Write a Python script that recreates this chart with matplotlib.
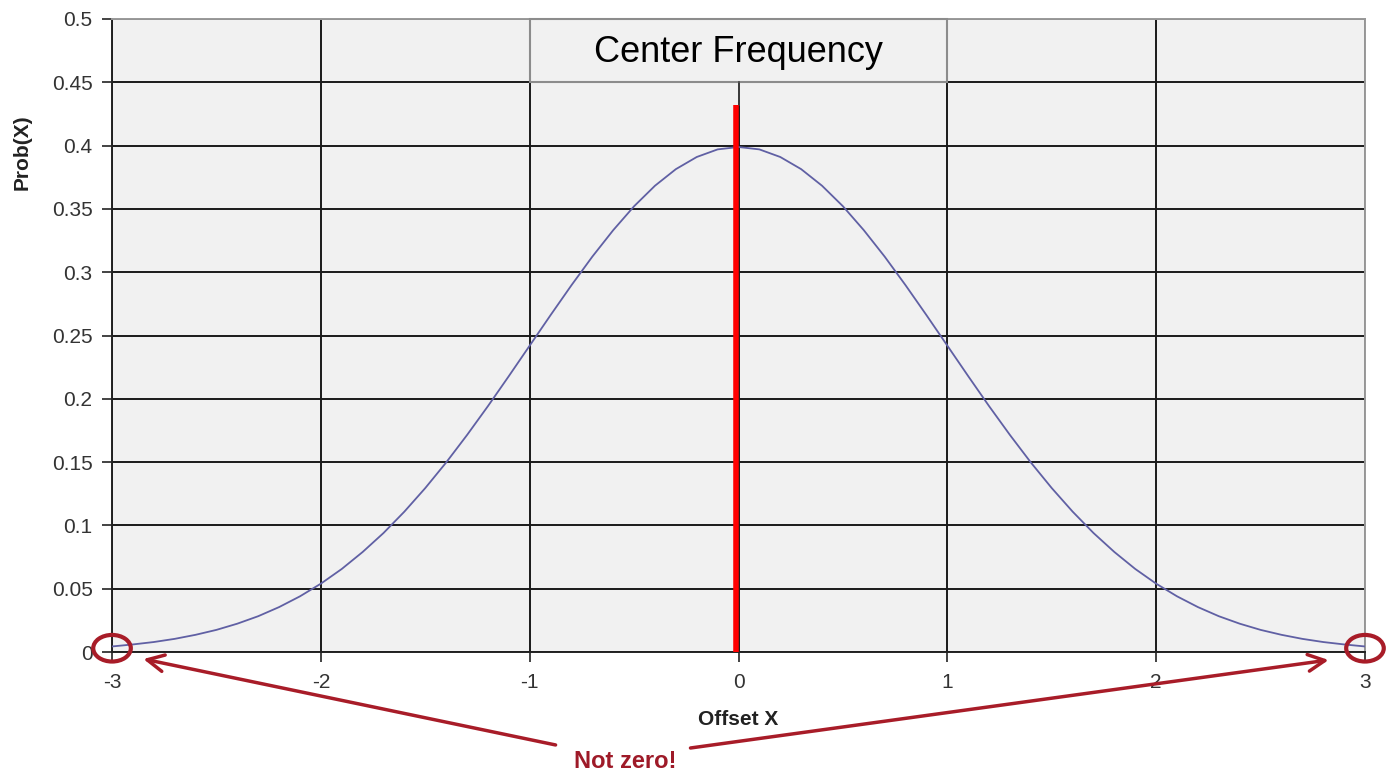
import matplotlib
matplotlib.use("Agg")
import matplotlib.pyplot as plt
from matplotlib.patches import Ellipse, Rectangle

plt.rcParams['font.family'] = ['Liberation Sans', 'DejaVu Sans']

# Data
offset_x = [-3.0, -2.9, -2.8, -2.7, -2.6, -2.5, -2.4, -2.3, -2.2, -2.1, -2.0,
            -1.9, -1.8, -1.7, -1.6, -1.5, -1.4, -1.3, -1.2, -1.1, -1.0,
            -0.9, -0.8, -0.7, -0.6, -0.5, -0.4, -0.3, -0.2, -0.1, 0.0,
            0.1, 0.2, 0.3, 0.4, 0.5, 0.6, 0.7, 0.8, 0.9, 1.0,
            1.1, 1.2, 1.3, 1.4, 1.5, 1.6, 1.7, 1.8, 1.9, 2.0,
            2.1, 2.2, 2.3, 2.4, 2.5, 2.6, 2.7, 2.8, 2.9, 3.0]
prob_x = [0.0044, 0.0060, 0.0079, 0.0104, 0.0136, 0.0175, 0.0224, 0.0283, 0.0355, 0.0440, 0.0540,
          0.0656, 0.0790, 0.0940, 0.1109, 0.1295, 0.1497, 0.1714, 0.1942, 0.2179, 0.2420,
          0.2661, 0.2897, 0.3123, 0.3332, 0.3521, 0.3683, 0.3814, 0.3910, 0.3970, 0.3989,
          0.3970, 0.3910, 0.3814, 0.3683, 0.3521, 0.3332, 0.3123, 0.2897, 0.2661, 0.2420,
          0.2179, 0.1942, 0.1714, 0.1497, 0.1295, 0.1109, 0.0940, 0.0790, 0.0656, 0.0540,
          0.0440, 0.0355, 0.0283, 0.0224, 0.0175, 0.0136, 0.0104, 0.0079, 0.0060, 0.0044]
x_ticks = [-3, -2, -1, 0, 1, 2, 3]
y_ticks = [0, 0.05, 0.1, 0.15, 0.2, 0.25, 0.3, 0.35, 0.4, 0.45, 0.5]
y_tick_labels = ["0", "0.05", "0.1", "0.15", "0.2", "0.25", "0.3", "0.35", "0.4", "0.45", "0.5"]
center_x = -0.01
center_top = 0.432
box_label = "Center Frequency"
note_label = "Not zero!"

fig = plt.figure(figsize=(13.9, 7.72), dpi=100)
ax = fig.add_axes([0.0806, 0.1554, 0.9014, 0.82])
ax.set_facecolor('#f1f1f1')
ax.set_xlim(-3, 3)
ax.set_ylim(0, 0.5)

ax.set_xticks(x_ticks)
ax.set_xticklabels([str(t) for t in x_ticks])
ax.set_yticks(y_ticks)
ax.set_yticklabels(y_tick_labels)
ax.tick_params(axis='both', direction='out', length=7, width=1.2, color='#222222',
               labelsize=15, labelcolor='#333333')
ax.tick_params(axis='x', pad=8)
ax.tick_params(axis='y', pad=7)
ax.grid(True, color='#1a1a1a', linewidth=1.4)
ax.set_axisbelow(True)

for s in ['left', 'bottom']:
    ax.spines[s].set_color('#222222')
    ax.spines[s].set_linewidth(1.4)
for s in ['top', 'right']:
    ax.spines[s].set_color('#999999')
    ax.spines[s].set_linewidth(1.4)

ax.plot(offset_x, prob_x, color='#6060a4', linewidth=1.3, zorder=3)

ax.set_xlabel("Offset X", fontsize=15, fontweight='bold', color='#222222')
ax.xaxis.set_label_coords(0.5, -0.092)
ax.set_ylabel("Prob(X)", fontsize=15, fontweight='bold', color='#222222')
ax.yaxis.set_label_coords(-0.064, 0.79)

# Center frequency box
box = Rectangle((-1.0, 0.45), 2.0, 0.05, facecolor='#f1f1f1', edgecolor='#8c8c8c',
                linewidth=1.5, zorder=4, clip_on=False)
ax.add_patch(box)
ax.text(0.0, 0.4735, box_label, ha='center', va='center', fontsize=26, color='black', zorder=5)
ax.plot([0.0, 0.0], [0.45, 0.432], color='#444444', linewidth=1.2, zorder=5)
ax.plot([center_x, center_x], [0, center_top], color='#ff0000', linewidth=4, zorder=5,
        solid_capstyle='butt')

# Circles and arrows
red = '#a81c28'
for cx in [-3, 3]:
    ax.add_patch(Ellipse((cx, 0.003), 0.18, 0.021, fill=False, edgecolor=red,
                         linewidth=3, clip_on=False, zorder=6))

ax.annotate("", xy=(-2.85, -0.0055), xytext=(-0.876, -0.0734), textcoords='data',
            arrowprops=dict(arrowstyle='->', color=red, lw=2.5, mutation_scale=30,
                            shrinkA=0, shrinkB=0), annotation_clip=False)
ax.annotate("", xy=(2.826, -0.0063), xytext=(-0.23, -0.0758), textcoords='data',
            arrowprops=dict(arrowstyle='->', color=red, lw=2.5, mutation_scale=30,
                            shrinkA=0, shrinkB=0), annotation_clip=False)
ax.text(-0.54, -0.0865, note_label, ha='center', va='center', fontsize=17,
        fontweight='bold', color='#9e1a28', clip_on=False)

fig.savefig("out.png", dpi=100)
